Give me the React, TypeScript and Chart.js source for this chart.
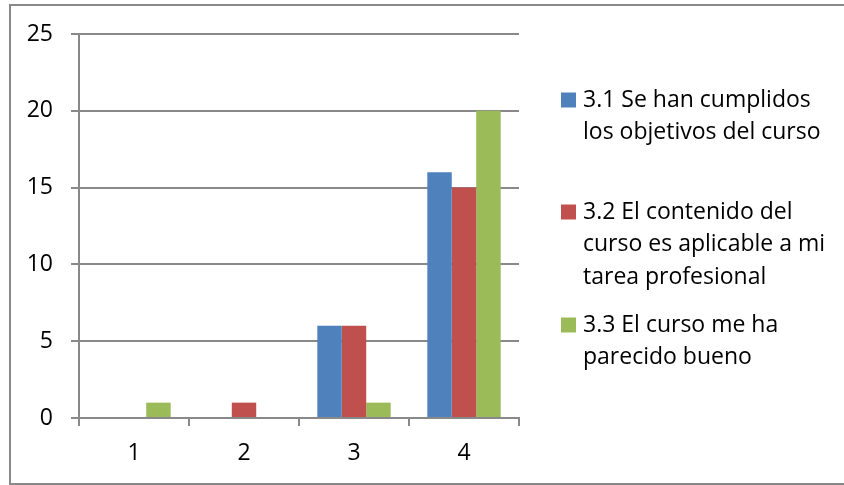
import React, { useEffect, useRef } from "react";
import { Chart, registerables } from "chart.js";

Chart.register(...registerables);

const categories = ["1", "2", "3", "4"];
const seriesNames = [
  ["3.1 Se han cumplidos", "los objetivos del curso"],
  ["3.2 El contenido del", "curso es aplicable a mi", "tarea profesional"],
  ["3.3 El curso me ha", "parecido bueno"],
];
const s31 = [0, 0, 6, 16];
const s32 = [0, 1, 6, 15];
const s33 = [1, 0, 1, 20];
const colors = ["#4F81BD", "#C0504D", "#9BBB59"];
const yTicks = [0, 5, 10, 15, 20, 25];

const FONT = "'Open Sans'";
const FONT_SIZE = 23;
const GRID = "#898989";

const frameAndLegend = {
  id: "frameAndLegend",
  afterDraw(chart: any) {
    const ctx = chart.ctx;
    ctx.save();
    // outer frame
    ctx.strokeStyle = GRID;
    ctx.lineWidth = 2;
    ctx.beginPath();
    ctx.moveTo(860, 5);
    ctx.lineTo(10, 5);
    ctx.lineTo(10, 484);
    ctx.lineTo(860, 484);
    ctx.stroke();
    // legend
    const boxX = 561;
    const box = 15;
    const textX = 583;
    const lineH = 32.5;
    const starts = [100, 212, 325];
    ctx.font = `${FONT_SIZE}px ${FONT}`;
    ctx.textBaseline = "middle";
    ctx.textAlign = "left";
    chart.data.datasets.forEach((ds: any, i: number) => {
      const y0 = starts[i];
      ctx.fillStyle = ds.backgroundColor;
      ctx.fillRect(boxX, y0 - box / 2, box, box);
      ctx.fillStyle = "#000";
      const lines: string[] = ds.label;
      lines.forEach((t, j) => ctx.fillText(t, textX, y0 + j * lineH));
    });
    ctx.restore();
  },
};

export default function App() {
  const ref = useRef<HTMLCanvasElement>(null);
  useEffect(() => {
    if (!ref.current) return;
    const data = [s31, s32, s33];
    const chart = new Chart(ref.current, {
      type: "bar",
      data: {
        labels: categories,
        datasets: data.map((d, i) => ({
          label: seriesNames[i] as any,
          data: d,
          backgroundColor: colors[i],
          borderWidth: 0,
          categoryPercentage: 0.667,
          barPercentage: 1,
        })),
      },
      options: {
        animation: false,
        responsive: false,
        layout: { padding: { left: 0, right: 325, top: 34, bottom: 0 } },
        plugins: { legend: { display: false }, tooltip: { enabled: false } },
        scales: {
          x: {
            grid: {
              offset: true,
              drawOnChartArea: false,
              drawTicks: true,
              tickLength: 8,
              color: GRID,
              lineWidth: 2,
            },
            border: { color: GRID, width: 2 },
            ticks: { color: "#000", font: { family: FONT, size: FONT_SIZE }, padding: 14 },
            afterFit: (s: any) => {
              s.height = 67;
            },
          },
          y: {
            min: 0,
            max: 25,
            afterBuildTicks: (s: any) => {
              s.ticks = yTicks.map((v) => ({ value: v }));
            },
            grid: { color: GRID, lineWidth: 2, tickLength: 8 },
            border: { color: GRID, width: 2 },
            ticks: { color: "#000", font: { family: FONT, size: FONT_SIZE }, padding: 18 },
            afterFit: (s: any) => {
              s.width = 79;
            },
          },
        },
      },
      plugins: [frameAndLegend],
    });
    return () => chart.destroy();
  }, []);
  return (
    <div style={{ position: "absolute", left: 0, top: 0, width: 844, height: 485, background: "#fff" }}>
      <canvas ref={ref} width={844} height={485} style={{ width: 844, height: 485, display: "block" }} />
    </div>
  );
}
